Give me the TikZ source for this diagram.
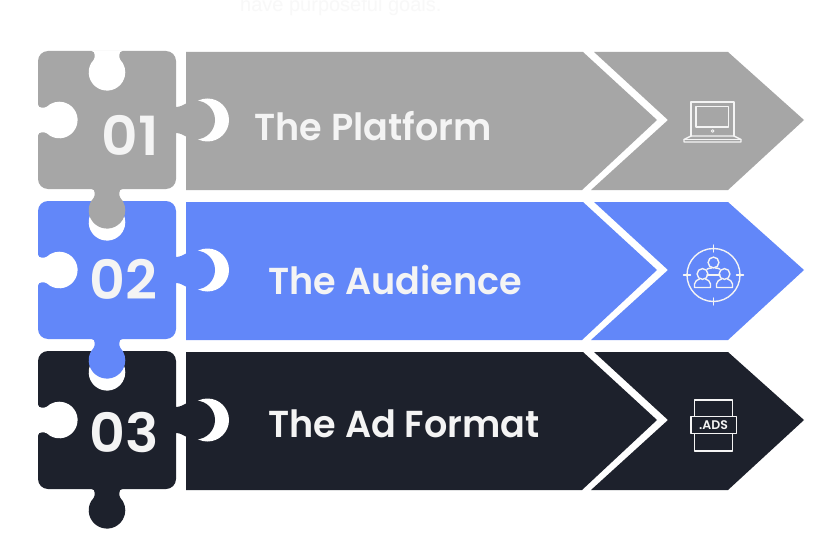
\documentclass[tikz,border=0pt]{standalone}
\usepackage{fontspec}
\setmainfont{Poppins}
\newfontfamily\headfont{Poppins SemiBold}
\newfontfamily\notefont{Liberation Sans}
\definecolor{stepgray}{HTML}{A6A6A6}
\definecolor{stepblue}{HTML}{6287F9}
\definecolor{stepdark}{HTML}{1D212C}
\definecolor{labelwhite}{HTML}{F4F4F4}
\definecolor{fainttext}{HTML}{F8F8F8}
\tikzset{
  title/.style={anchor=base west,inner sep=0pt,text=labelwhite,font=\headfont\fontsize{37.5}{37.5}\selectfont},
  numeral/.style={anchor=base west,inner sep=0pt,text=labelwhite,font=\headfont\fontsize{54}{54}\selectfont},
  iconline/.style={draw=labelwhite,line width=1.4pt,line join=round,line cap=round},
}
% Keyhole outline of a puzzle joint, hanging downward from the origin
\newcommand{\keyholeshape}{
  (-15.5,0.5) -- (-15.5,0) .. controls (-13.3,0) and (-12.3,-1.5) .. (-12.3,-4) -- (-12.3,-6)
  .. controls (-12.3,-8) and (-14,-10) .. (-15.85,-12.15)
  arc[start angle=150,end angle=390,radius=18.3]
  .. controls (14,-10) and (12.3,-8) .. (12.3,-6) -- (12.3,-4)
  .. controls (12.3,-1.5) and (13.3,0) .. (15.5,0) -- (15.5,0.5) -- cycle
}
% One row: arrow body, arrow head, puzzle square with its notches and side tab
\newcommand{\steprow}[2]{
  \begin{scope}[yshift=#1pt]
    \fill[#2] (186,68) -- (583,68) -- (657,0) -- (582,-70) -- (186,-70) -- cycle;
    \fill[#2] (594,68) -- (728,68) -- (804,0) -- (728,-70) -- (591,-70) -- (668,0) -- cycle;
    \fill[white] (207.5,0) circle[radius=21.5];
    \fill[#2,rounded corners=10pt] (38,-69) rectangle (176,69);
    \fill[#2] (175,13) -- (176,13) .. controls (180,13) and (183,15) .. (186,16.5)
      -- (190,16.5) -- (190,-16.5) -- (186,-16.5) .. controls (183,-15) and (180,-13) .. (176,-13) -- (175,-13) -- cycle;
    \begin{scope}
      \clip (186,-30) rectangle (230,30);
      \fill[#2] (195.6,0) circle[radius=19.4];
    \end{scope}
    \begin{scope}[shift={(107,69)}]
      \fill[white] \keyholeshape;
    \end{scope}
    \begin{scope}[shift={(38,0)},rotate=90]
      \fill[white] \keyholeshape;
    \end{scope}
  \end{scope}
}
% Tab hanging below a puzzle square
\newcommand{\bottomtab}[2]{
  \begin{scope}[shift={(107,#1-69)}]
    \fill[#2] \keyholeshape;
  \end{scope}
}
\begin{document}
\begin{tikzpicture}[x=1pt,y=1pt]
  \useasboundingbox (0,0) rectangle (835,550);
  \fill[white] (0,0) rectangle (835,550);

  \node[anchor=base west,inner sep=0pt,text=fainttext,font=\notefont\fontsize{20}{20}\selectfont] (note) at (240,538.5) {have purposeful goals.};

  \steprow{430}{stepgray}
  \steprow{280}{stepblue}
  \steprow{130}{stepdark}
  \bottomtab{430}{stepgray}
  \bottomtab{280}{stepblue}
  \bottomtab{130}{stepdark}

  % Numerals
  \node[numeral] (numa) at (101.5,395) {\scalebox{1.05}[1]{01}};
  \node[numeral] (numb) at (89.5,251) {\scalebox{1.03}[1]{02}};
  \node[numeral] (numc) at (89,98) {\scalebox{1.03}[1]{03}};

  % Titles
  \node[title] (titlea) at (254.5,409.3) {\scalebox{.975}[1]{The Platform}};
  \node[title] (titleb) at (268.5,256) {\scalebox{.975}[1]{The Audience}};
  \node[title] (titlec) at (268.5,112.3) {\scalebox{.975}[1]{The Ad Format}};

  % Laptop icon
  \begin{scope}[yshift=430pt]
    \draw[iconline] (691,-16) -- (691,18) -- (734,18) -- (734,-16);
    \draw[iconline] (696,13.5) rectangle (728.3,-7);
    \draw[iconline,line width=.9pt] (712.7,-11) circle[radius=1.4];
    \draw[iconline] (691,-16) -- (734,-16) -- (741,-19.5) -- (741,-22) -- (684,-22) -- (684,-19.5) -- cycle;
    \draw[iconline,line width=.8pt] (684,-19.5) -- (741,-19.5);
  \end{scope}

  % Audience icon
  \begin{scope}[yshift=280pt,shift={(713.5,-5)}]
    \draw[iconline] (0,0) circle[radius=26.5];
    \draw[iconline] (0,23) -- (0,30) (0,-23) -- (0,-30) (-30,0) -- (-23,0) (23,0) -- (30,0);
    \draw[iconline] (0,12.5) circle[radius=5.4];
    \draw[iconline] (-11,1) circle[radius=5.4];
    \draw[iconline] (11,1) circle[radius=5.4];
    \draw[iconline] (-6.5,0) -- (6.5,0);
    \draw[iconline] (-6.5,5.8) .. controls (-5,7) and (-3.5,6.8) .. (-1.5,7);
    \draw[iconline] (6.5,5.8) .. controls (5,7) and (3.5,6.8) .. (1.5,7);
    \draw[iconline] (-19,-12.5) -- (-19,-9) .. controls (-19,-6) and (-16,-5) .. (-14,-4)
       (-8,-4) .. controls (-6,-5) and (-3,-6) .. (-3,-9) -- (-3,-12.5) -- (-19,-12.5);
    \draw[iconline] (3,-12.5) -- (3,-9) .. controls (3,-6) and (6,-5) .. (8,-4)
       (14,-4) .. controls (16,-5) and (19,-6) .. (19,-9) -- (19,-12.5) -- (3,-12.5);
  \end{scope}

  % Ad file icon
  \begin{scope}[yshift=130pt]
    \draw[iconline] (694.3,20) rectangle (732.7,-31);
    \draw[iconline,fill=stepdark] (691,3.3) rectangle (736.7,-13.3);
    \node[anchor=center,inner sep=0pt,text=labelwhite,font=\headfont\fontsize{12.5}{12.5}\selectfont] (adslabel) at (713.5,-5) {.ADS};
  \end{scope}
\end{tikzpicture}
\end{document}
